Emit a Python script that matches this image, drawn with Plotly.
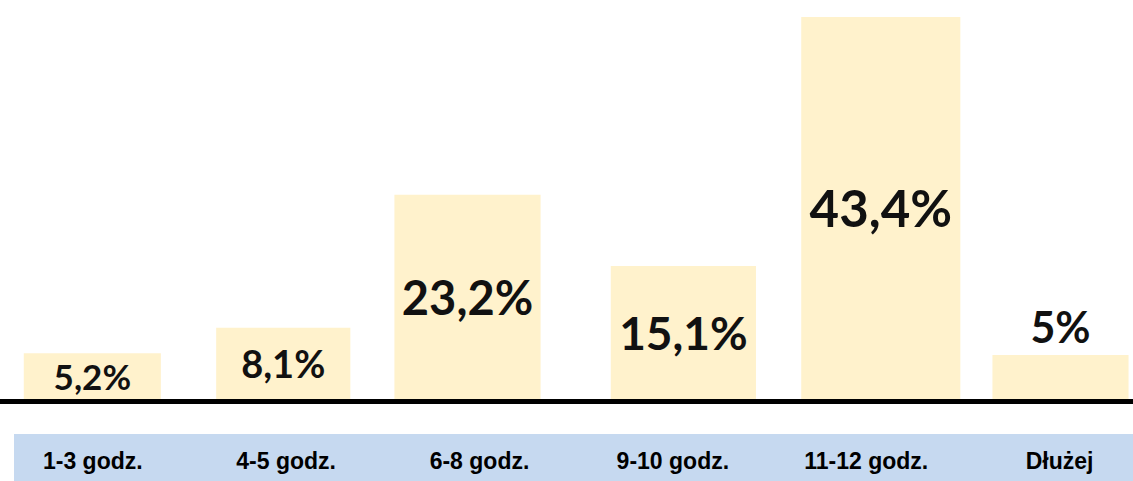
import plotly.graph_objects as go

# Working-time categories and the share of respondents in each
categories = ["1-3 godz.", "4-5 godz.", "6-8 godz.", "9-10 godz.", "11-12 godz.", "Dłużej"]
shares = [5.2, 8.1, 23.2, 15.1, 43.4, 5]

# Polish-style percent labels (decimal comma)
labels = [f"{v:g}".replace(".", ",") + "%" for v in shares]

# Per-bar styling: label size/placement, bar width and shift within its slot
label_sizes = [35, 38, 47, 46, 51, 43]
label_positions = ["inside", "inside", "inside", "inside", "inside", "outside"]
bar_widths = [0.709, 0.694, 0.756, 0.751, 0.823, 0.704]
bar_offsets = [-0.357, -0.362, -0.44, -0.321, -0.336, -0.347]

W, H = 1133, 481
PLOT_BOTTOM = 399  # pixel row of the baseline

fig = go.Figure(
    go.Bar(
        x=categories,
        y=shares,
        width=bar_widths,
        offset=bar_offsets,
        text=labels,
        texttemplate="<b>%{text}</b>",
        textposition=label_positions,
        insidetextanchor="middle",
        textangle=0,
        constraintext="none",
        cliponaxis=False,
        textfont=dict(family="Lato", size=label_sizes, color="#111111"),
        marker=dict(color="#FFF2CC", line=dict(width=0)),
        hoverinfo="skip",
    )
)

# Light-blue band behind the category labels
fig.add_shape(
    type="rect", xref="paper", yref="paper",
    x0=14 / W, x1=1.0,
    y0=-(H - PLOT_BOTTOM) / PLOT_BOTTOM, y1=-(434 - PLOT_BOTTOM) / PLOT_BOTTOM,
    fillcolor="#C6D9F0", line=dict(width=0), layer="below",
)

fig.update_layout(
    width=W, height=H,
    margin=dict(l=0, r=0, t=0, b=H - PLOT_BOTTOM, pad=0),
    paper_bgcolor="white", plot_bgcolor="white",
    showlegend=False,
    xaxis=dict(
        range=[-0.48, 5.38],
        showgrid=False, zeroline=False,
        showline=True, linecolor="#000000", linewidth=5,
        ticks="", ticklabelstandoff=37,
        tickfont=dict(family="Liberation Sans", size=23, color="#000000", weight="bold"),
        fixedrange=True,
    ),
    yaxis=dict(
        range=[0, 45.33],
        visible=False, showgrid=False, zeroline=False,
        fixedrange=True,
    ),
)

fig.write_html("out.html")
